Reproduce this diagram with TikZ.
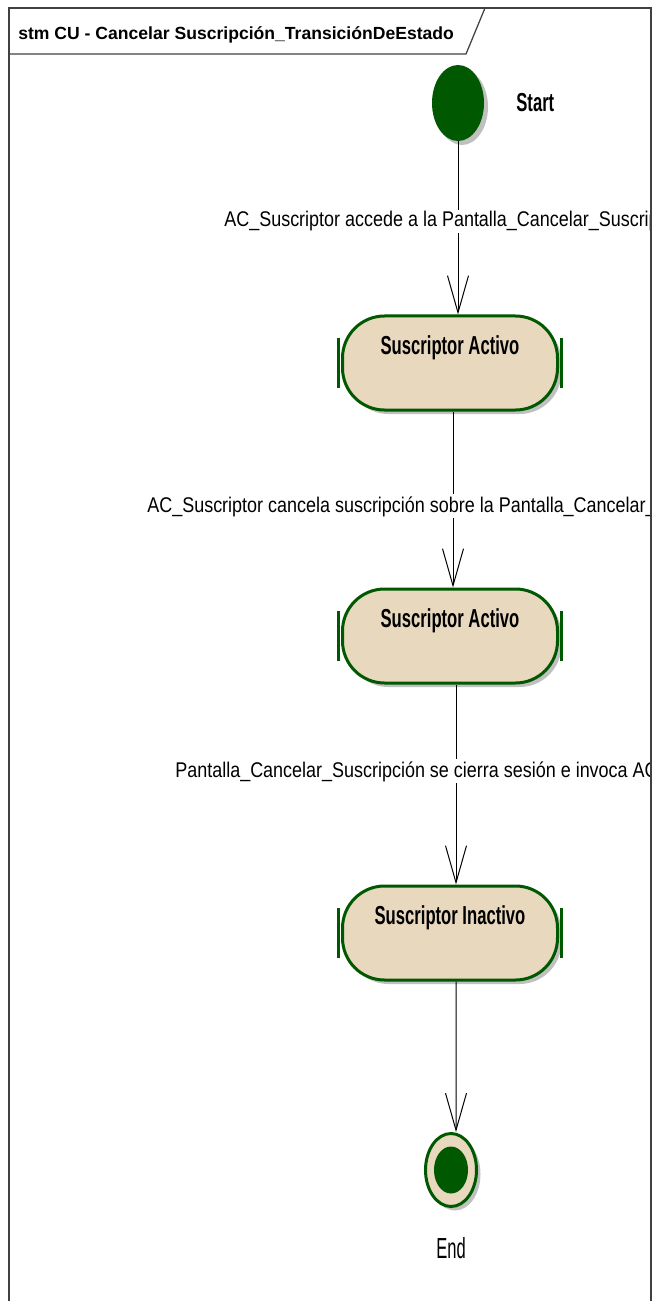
\documentclass[tikz,border=0pt]{standalone}
\usepackage{fontspec}
\setmainfont{Liberation Sans}
\newfontfamily\lblfont{Liberation Sans}[FakeStretch=0.845]
\newfontfamily\stfont{Liberation Sans}[FakeStretch=0.64]
\newfontfamily\endfont{Liberation Sans}[FakeStretch=0.57]
\usetikzlibrary{arrows.meta,positioning,shapes.geometric,shadows}
\definecolor{umlgreen}{RGB}{0,88,0}
\definecolor{umltan}{RGB}{232,216,190}
\definecolor{umlshadow}{RGB}{192,192,192}

\begin{document}
\begin{tikzpicture}[
  x=0.2mm, y=-0.2mm,
  every node/.append style={inner sep=0pt},
  shd/.style={drop shadow={shadow xshift=0.8mm, shadow yshift=-0.8mm, fill=umlshadow, opacity=1}},
  st/.style={rectangle, rounded corners=8.4mm, draw=umlgreen, line width=0.6mm, fill=umltan,
    minimum width=43mm, minimum height=18.8mm, text height=4mm, text depth=7.4mm,
    font=\stfont\fontsize{14.8}{17}\selectfont\bfseries, shd},
  tick/.style={draw=umlgreen, line width=0.6mm},
  arr/.style={-{Straight Barb[length=7.4mm, width=4.2mm]}, line width=0.2mm},
  lab/.style={fill=white, inner sep=0.4mm, anchor=base west, font=\lblfont\fontsize{12.1}{14}\selectfont},
  frm/.style={draw=black!75, line width=0.25mm}
]
\useasboundingbox (0,0) rectangle (657,1301);

\node[ellipse, fill=umlgreen, minimum width=10.4mm, minimum height=15.2mm, shd] (start) at (458,103) {};
\node[anchor=base west, font=\stfont\fontsize{14.8}{17}\selectfont\bfseries] (startlbl) at (516,112) {Start};

\node[st] (act1)  at (450,363) {Suscriptor Activo};
\node[st] (act2)  at (450,636) {Suscriptor Activo};
\node[st] (inact) at (450,933) {Suscriptor Inactivo};
\foreach \s in {act1,act2,inact} {
  \draw[tick] ([xshift=-0.55mm,yshift=5mm]\s.west) -- ++(0,-10mm);
  \draw[tick] ([xshift=0.55mm,yshift=5mm]\s.east) -- ++(0,-10mm);
}

\node[ellipse, draw=umlgreen, line width=0.6mm, fill=umltan, minimum width=10.2mm, minimum height=14.6mm, shd] (fin) at (451,1170) {};
\node[ellipse, fill=umlgreen, minimum width=6.8mm, minimum height=9.4mm] (finin) at (fin) {};
\node[font=\endfont\fontsize{16.5}{19}\selectfont] (finlbl) at (451,1248) {End};

\draw[arr] (start) -- (start |- act1.north);
\draw[arr] ([xshift=0.6mm]act1.south) -- ([xshift=0.6mm]act2.north);
\draw[arr] ([xshift=1.2mm]act2.south) -- ([xshift=1.2mm]inact.north);
\draw[arr] ([xshift=1.2mm]inact.south) -- ([xshift=1mm]fin.north);

\begin{scope}
  \clip (9,8) rectangle (651,1301);
  \node[lab] (lbl1) at (222,227) {AC\_Suscriptor accede a la Pantalla\_Cancelar\_Suscrip};
  \node[lab] (lbl2) at (145,512) {AC\_Suscriptor cancela suscripción sobre la Pantalla\_Cancelar\_};
  \node[lab] (lbl3) at (173,777) {Pantalla\_Cancelar\_Suscripción se cierra sesión e invoca AC};
\end{scope}

\draw[frm] (9,1301) -- (9,8) -- (651,8) -- (651,1301);
\draw[frm] (9,54) -- (466,54) -- (485,8);
\node[anchor=base west, font=\fontsize{10}{12}\selectfont\bfseries] (title) at (18,40) {stm CU - Cancelar Suscripción\_TransiciónDeEstado};
\end{tikzpicture}
\end{document}
